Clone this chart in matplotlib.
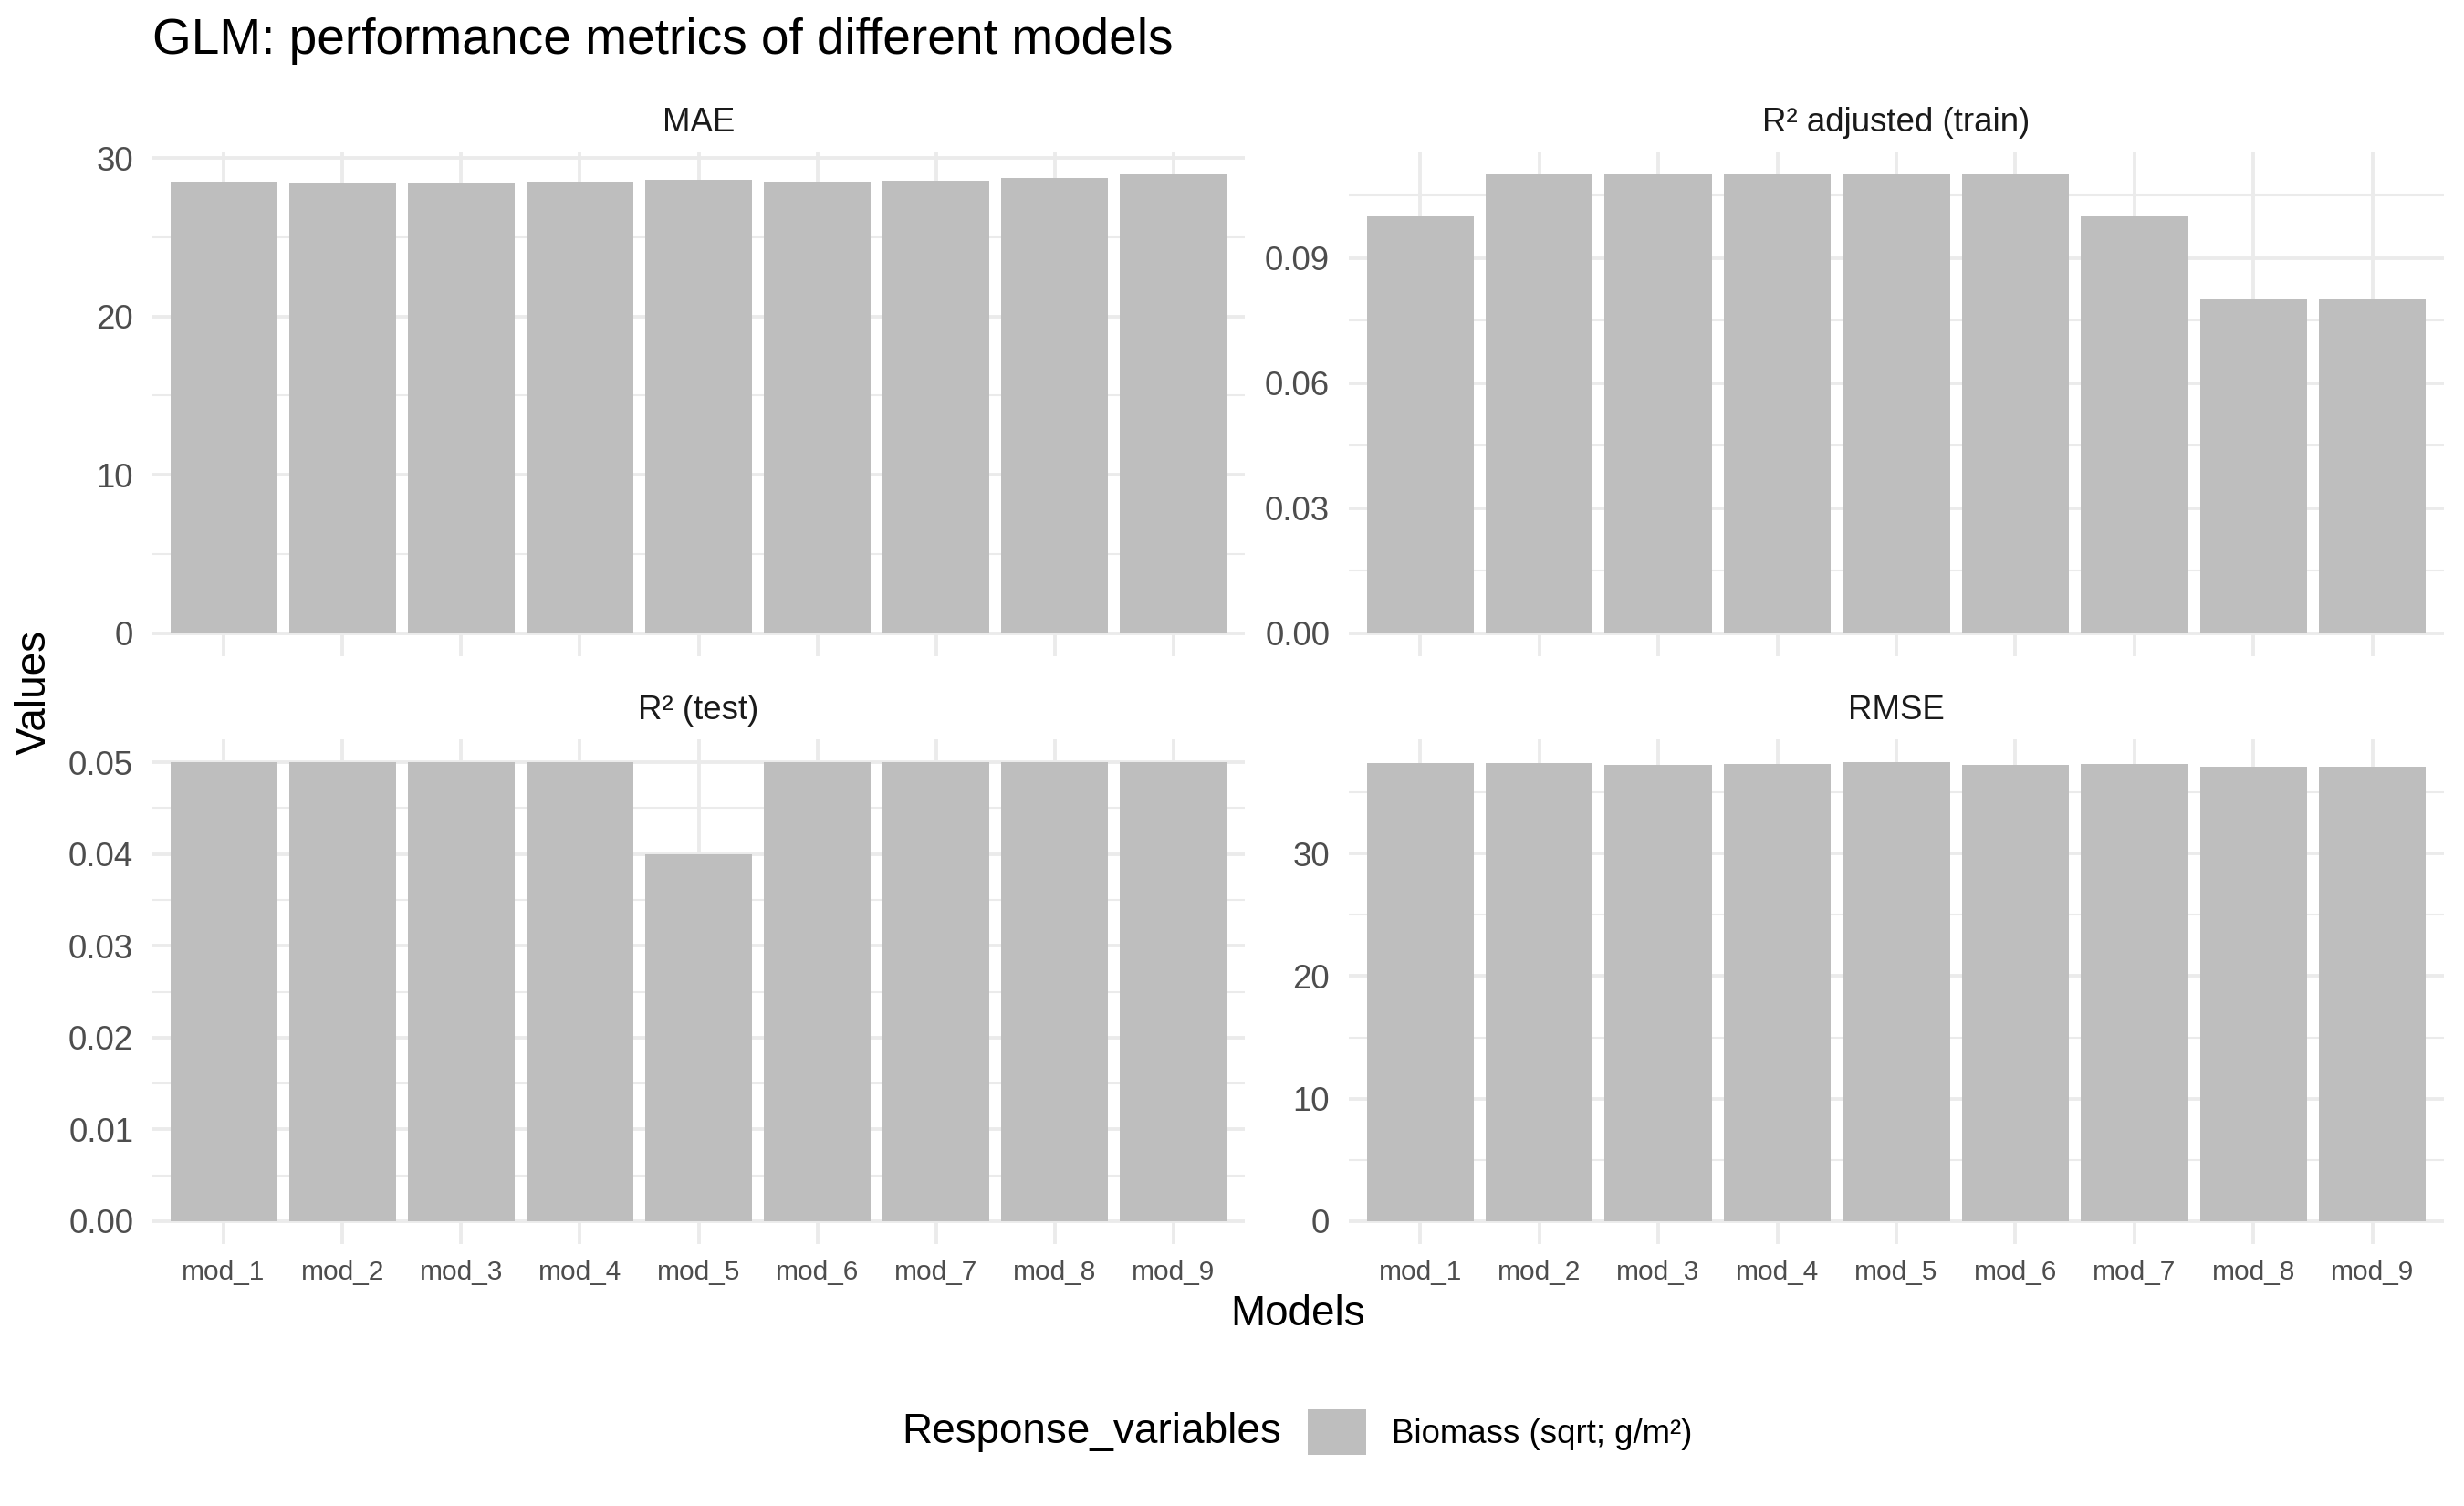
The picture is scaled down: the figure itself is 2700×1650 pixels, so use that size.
import matplotlib
matplotlib.use("Agg")
import matplotlib.pyplot as plt
from matplotlib.patches import Patch
import numpy as np

plt.rcParams['font.family'] = ['Liberation Sans', 'DejaVu Sans']

models = ['mod_1', 'mod_2', 'mod_3', 'mod_4', 'mod_5', 'mod_6', 'mod_7', 'mod_8', 'mod_9']
mae = [28.48, 28.44, 28.40, 28.48, 28.63, 28.52, 28.54, 28.75, 28.96]
r2_adj = [0.10, 0.11, 0.11, 0.11, 0.11, 0.11, 0.10, 0.08, 0.08]
r2_test = [0.05, 0.05, 0.05, 0.05, 0.04, 0.05, 0.05, 0.05, 0.05]
rmse = [37.40, 37.36, 37.23, 37.30, 37.45, 37.23, 37.30, 37.10, 37.10]

mae_ticks = [0, 10, 20, 30]
r2_adj_ticks = [0.00, 0.03, 0.06, 0.09]
r2_test_ticks = [0.00, 0.01, 0.02, 0.03, 0.04, 0.05]
rmse_ticks = [0, 10, 20, 30]

bar_col = '#BEBEBE'
grid_col = '#EBEBEB'

W, H = 2700, 1650
fig = plt.figure(figsize=(27, 16.5), dpi=100)

def box(x0, y0, x1, y1):
    return [x0 / W, 1 - y1 / H, (x1 - x0) / W, (y1 - y0) / H]

panels = [
    ('MAE', mae, mae_ticks, '{:.0f}', box(167, 166, 1364, 719), False),
    ('R² adjusted (train)', r2_adj, r2_adj_ticks, '{:.2f}', box(1478, 166, 2678, 719), False),
    ('R² (test)', r2_test, r2_test_ticks, '{:.2f}', box(167, 810, 1364, 1363), True),
    ('RMSE', rmse, rmse_ticks, '{:.0f}', box(1478, 810, 2678, 1363), True),
]

x = np.arange(len(models))
for name, vals, ticks, fmt, pos, show_x in panels:
    ax = fig.add_axes(pos)
    ax.bar(x, vals, width=0.9, color=bar_col, zorder=2)
    top = max(vals)
    ax.set_ylim(-0.05 * top, 1.05 * top)
    ax.set_xlim(-0.6, len(models) - 0.4)
    ax.set_yticks(ticks)
    ax.set_yticklabels([fmt.format(t) for t in ticks])
    step = ticks[1] - ticks[0]
    minor = [t + step / 2 for t in ticks if t + step / 2 <= 1.05 * top]
    ax.set_yticks(minor, minor=True)
    ax.set_xticks(x)
    if show_x:
        ax.set_xticklabels(models)
    else:
        ax.set_xticklabels([])
    ax.grid(True, which='major', color=grid_col, linewidth=2.8, zorder=0)
    ax.grid(True, which='minor', axis='y', color=grid_col, linewidth=1.5, zorder=0)
    ax.set_axisbelow(True)
    for s in ax.spines.values():
        s.set_visible(False)
    ax.tick_params(axis='y', which='both', length=0, pad=15, labelsize=26.4, labelcolor='#4D4D4D')
    ax.tick_params(axis='x', which='both', length=0, pad=12, labelsize=21.5, labelcolor='#4D4D4D')
    ax.set_title(name, fontsize=26.4, color='#1A1A1A', pad=16)

fig.text(167 / W, 1 - 45 / H, 'GLM: performance metrics of different models',
         fontsize=39.6, ha='left', va='center', color='black')
fig.text(1422 / W, 1 - 1440 / H, 'Models', fontsize=33, ha='center', va='center')
fig.text(38 / W, 1 - 758 / H, 'Values', fontsize=33, ha='center', va='center', rotation=90)

fig.text(1404 / W, 1 - 1569 / H, 'Response_variables', fontsize=33, ha='right', va='center')
fig.legend(handles=[Patch(facecolor=bar_col, edgecolor='none', label='Biomass (sqrt; g/m²)')],
           loc='center left', bbox_to_anchor=(1433 / W, 1 - 1569 / H), frameon=False,
           fontsize=26.4, handlelength=1.75, handleheight=1.75, handletextpad=0.75,
           borderpad=0, borderaxespad=0)

fig.savefig('out.png', dpi=100, facecolor='white')
